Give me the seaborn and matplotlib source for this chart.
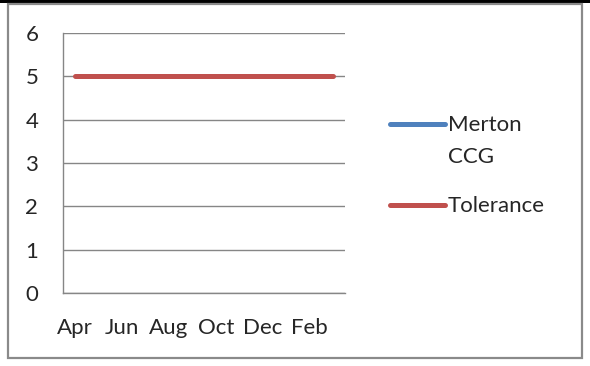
import numpy as np
import pandas as pd
import matplotlib
matplotlib.use("Agg")
import matplotlib.pyplot as plt
from matplotlib.patches import Rectangle
from matplotlib.lines import Line2D
import seaborn as sns

# Monthly series, April to March
months = ["Apr", "May", "Jun", "Jul", "Aug", "Sep", "Oct", "Nov", "Dec", "Jan", "Feb", "Mar"]
merton_ccg = [np.nan] * 12
tolerance = [5, 5, 5, 5, 5, 5, 5, 5, 5, 5, 5, 5]
y_ticks = [0, 1, 2, 3, 4, 5, 6]

series_names = ["Merton CCG", "Tolerance"]
legend_labels = ["Merton\nCCG", "Tolerance"]
series_colors = ["#4F81BD", "#C0504D"]

df = pd.DataFrame({"month": months * 2,
                   "pos": list(range(12)) * 2,
                   "value": merton_ccg + tolerance,
                   "series": [series_names[0]] * 12 + [series_names[1]] * 12})

sns.set_style("white")
plt.rcParams["font.family"] = ["Lato", "DejaVu Sans"]

W, H = 590, 366
FS = 16
LW = 3.6
fig = plt.figure(figsize=(W / 100, H / 100), dpi=100)

def fx(px):
    return px / W

def fy(py):
    return 1 - py / H

# axes spans the plot area
left, right, top, bottom = 63, 345, 33, 293
ax = fig.add_axes([fx(left), fy(bottom), fx(right) - fx(left), (bottom - top) / H])

sns.lineplot(data=df, x="pos", y="value", hue="series", palette=series_colors,
             hue_order=series_names, linewidth=LW, ax=ax, legend=False,
             solid_capstyle="round")

ax.set_xlim(-0.5, 11.5)
ax.set_ylim(0, 6)
ax.set_yticks(y_ticks)
ax.set_yticklabels([str(v) for v in y_ticks], fontsize=FS)
ax.yaxis.grid(True, color="#868686", linewidth=1)
ax.set_axisbelow(True)

# minor ticks at category boundaries, labels every other month
ax.set_xticks(np.arange(-0.5, 12, 1), minor=True)
ax.set_xticks(range(0, 12, 2))
ax.set_xticklabels(months[0::2], fontsize=FS)
ax.tick_params(axis="x", which="major", length=0, pad=18)
ax.tick_params(axis="x", which="minor", length=3.6, width=1, color="#868686", direction="out")
ax.tick_params(axis="y", length=5.8, width=1, color="#868686", direction="out", pad=12)

for side in ["top", "right"]:
    ax.spines[side].set_visible(False)
for side in ["left", "bottom"]:
    ax.spines[side].set_color("#868686")
    ax.spines[side].set_linewidth(1)
ax.set_xlabel("")
ax.set_ylabel("")

# legend entries: key line beside the first line of each label
legend_rows = [124, 205]
for color, label, yrow in zip(series_colors, legend_labels, legend_rows):
    fig.add_artist(Line2D([fx(390), fx(445)], [fy(yrow), fy(yrow)], color=color,
                          linewidth=LW, solid_capstyle="round",
                          transform=fig.transFigure))
    fig.text(fx(448), fy(yrow - 9), label, fontsize=FS, va="top", ha="left",
             linespacing=1.75)

# outer frame
fig.patches.append(Rectangle((0, fy(3)), 1, 3 / H, transform=fig.transFigure,
                             facecolor="black", edgecolor="none"))
fig.patches.append(Rectangle((fx(8), fy(358)), fx(582) - fx(8), (358 - 4) / H,
                             transform=fig.transFigure, facecolor="none",
                             edgecolor="#8a8a8a", linewidth=1.6))

fig.savefig("out.png", dpi=100)
